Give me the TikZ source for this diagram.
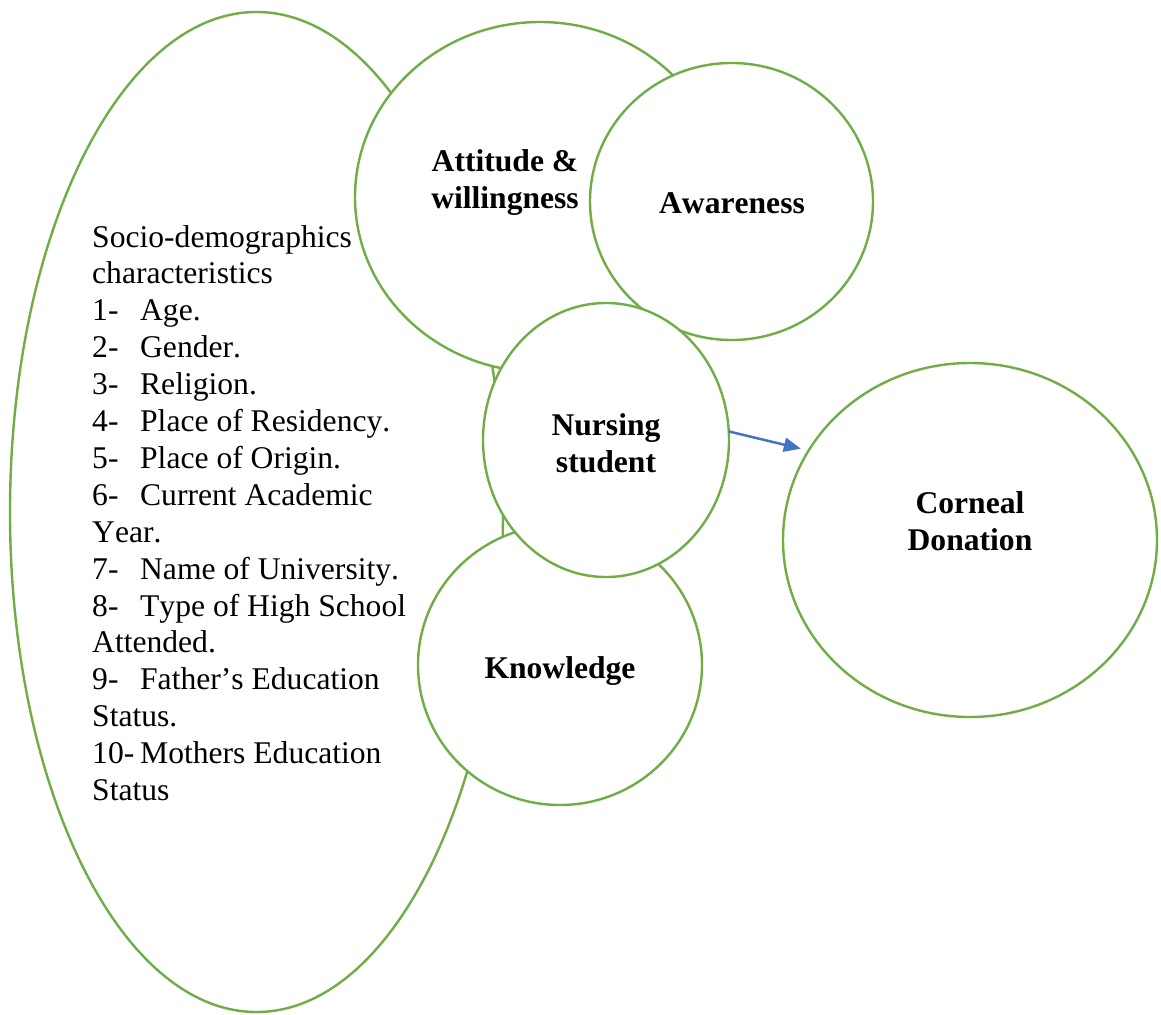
\documentclass[tikz,border=0pt]{standalone}
\usepackage{fontspec}
\setmainfont{Liberation Serif}[Kerning=Off]
\usetikzlibrary{shapes.geometric,arrows.meta}
\definecolor{ogreen}{HTML}{70AD47}
\definecolor{oblue}{HTML}{4472C4}
\begin{document}
\begin{tikzpicture}[x=1pt,y=-1pt,
  blob/.style={ellipse, draw=ogreen, line width=2.4pt, fill=white, inner sep=0pt, outer sep=0pt},
  lbl/.style={font=\fontsize{31.6}{36.9}\selectfont\bfseries, align=center, anchor=base, inner sep=0pt},
  body/.style={font=\fontsize{31.6}{36.9}\selectfont, align=left, anchor=base west, inner sep=0pt},
  arr/.style={draw=oblue, line width=2.5pt, -{Triangle[length=17pt,width=14pt]}}
  ]
\useasboundingbox (0,0) rectangle (1161,1014);
% shapes (drawing order matters: later ones cover earlier ones)
\node[blob, minimum width=493pt, minimum height=1000pt] (socio) at (256.5,512) {};
\node[blob, minimum width=370pt, minimum height=350pt] (att) at (540,197) {};
\node[blob, minimum width=283pt, minimum height=277pt] (awa) at (731.5,201.5) {};
\node[blob, minimum width=284pt, minimum height=280pt] (kno) at (560,665) {};
\node[blob, minimum width=246pt, minimum height=274pt] (nur) at (606,440) {};
\node[blob, minimum width=374pt, minimum height=354pt] (cor) at (970,540) {};
% labels (base anchor = baseline of the last line)
\node[lbl] (tatt) at (505,208) {Attitude \&\\willingness};
\node[lbl] (tawa) at (732,213) {Awareness};
\node[lbl] (tnur) at (606,472) {Nursing\\student};
\node[lbl] (tkno) at (560,678) {Knowledge};
\node[lbl] (tcor) at (970,550) {Corneal\\Donation};
\node[body] (soctext) at (92,800.5) {Socio-demographics\\
characteristics\\
\makebox[48pt][l]{1-}Age.\\
\makebox[48pt][l]{2-}Gender.\\
\makebox[48pt][l]{3-}Religion.\\
\makebox[48pt][l]{4-}Place of Residency.\\
\makebox[48pt][l]{5-}Place of Origin.\\
\makebox[48pt][l]{6-}Current Academic\\
Year.\\
\makebox[48pt][l]{7-}Name of University.\\
\makebox[48pt][l]{8-}Type of High School\\
Attended.\\
\makebox[48pt][l]{9-}Father’s Education\\
Status.\\
\makebox[48pt][l]{10-}Mothers Education\\
Status};
% connector
\draw[arr, shorten >=8pt] (nur.4) -- (cor.151);
\end{tikzpicture}
\end{document}
